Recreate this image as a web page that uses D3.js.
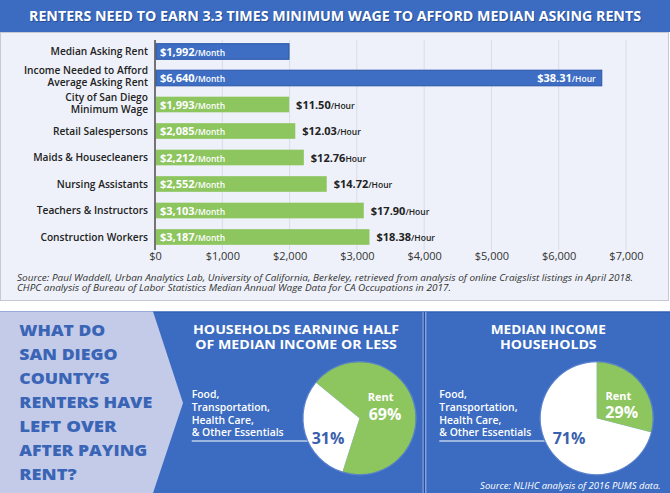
<!DOCTYPE html>
<html><head><meta charset="utf-8">
<script src="https://cdn.jsdelivr.net/npm/d3@7"></script>
<style>
html,body{margin:0;padding:0;background:#fff;}
svg{display:block;}
text{font-family:"Open Sans",sans-serif;}
</style></head>
<body>
<svg id="c" width="670" height="493"></svg>
<script>
// ---------- DATA ----------
const title = "RENTERS NEED TO EARN 3.3 TIMES MINIMUM WAGE TO AFFORD MEDIAN ASKING RENTS";
const categories = ["Median Asking Rent","Income Needed to Afford Average Asking Rent","City of San Diego Minimum Wage","Retail Salespersons","Maids & Housecleaners","Nursing Assistants","Teachers & Instructors","Construction Workers"];
const categoryLines = [["Median Asking Rent"],["Income Needed to Afford","Average Asking Rent"],["City of San Diego","Minimum Wage"],["Retail Salespersons"],["Maids & Housecleaners"],["Nursing Assistants"],["Teachers & Instructors"],["Construction Workers"]];
const monthly = [1992, 6640, 1993, 2085, 2212, 2552, 3103, 3187];
const hourly = [null, "$38.31", "$11.50", "$12.03", "$12.76", "$14.72", "$17.90", "$18.38"];
const hourSuffix = [null, "/Hour", "/Hour", "/Hour", "Hour", "/Hour", "/Hour", "/Hour"];
const barType = ["blue","blue","green","green","green","green","green","green"];
const xTicks = [0,1000,2000,3000,4000,5000,6000,7000];
const sourceTop = ["Source: Paul Waddell, Urban Analytics Lab, University of California, Berkeley, retrieved from analysis of online Craigslist listings in April 2018.",
                   "CHPC analysis of Bureau of Labor Statistics Median Annual Wage Data for CA Occupations in 2017."];
const question = ["WHAT DO","SAN DIEGO","COUNTY\u2019S","RENTERS HAVE","LEFT OVER","AFTER PAYING","RENT?"];
const essentials = ["Food,","Transportation,","Health Care,","& Other Essentials"];
const pieTitles = [["HOUSEHOLDS EARNING HALF","OF MEDIAN INCOME OR LESS"],["MEDIAN INCOME","HOUSEHOLDS"]];
const pieRent = [69, 29];
const pieOther = [31, 71];
const sourceBottom = "Source: NLIHC analysis of 2016 PUMS data.";

// ---------- STYLE ----------
const BLUE = "#3b6cc1", BAR_BLUE = "#3d6ec3", BAR_BLUE_EDGE = "#2a56a6", GREEN = "#8dc55f", LIGHT = "#c3cbe9";
const svg = d3.select("#c");

// banner
svg.append("rect").attr("x",0).attr("y",0).attr("width",670).attr("height",32).attr("fill",BLUE);
svg.append("text").attr("x",336).attr("y",22).attr("text-anchor","middle")
  .attr("font-size",13.5).attr("font-weight",700).attr("fill","#1e3f7e").attr("opacity",0.7)
  .attr("textLength",612).attr("lengthAdjust","spacingAndGlyphs").text(title);
svg.append("text").attr("x",335).attr("y",21).attr("text-anchor","middle")
  .attr("font-size",13.5).attr("font-weight",700).attr("fill","#fff")
  .attr("textLength",612).attr("lengthAdjust","spacingAndGlyphs").text(title);

// top panel
svg.append("rect").attr("x",0.5).attr("y",32.5).attr("width",668).attr("height",268)
  .attr("fill","#eef1f9").attr("stroke","#c6cad3");

const x = d3.scaleLinear().domain([0,7000]).range([155,626]);
const y = d3.scaleBand().domain(categories).range([38.25,250.25]).paddingInner(0.41).paddingOuter(0.205);

// grid
svg.append("g").selectAll("line").data(xTicks.slice(1)).join("line")
  .attr("x1",d=>x(d)).attr("x2",d=>x(d)).attr("y1",40).attr("y2",250)
  .attr("stroke","#d8dce6").attr("stroke-width",1);

// axis
const axis = d3.axisBottom(x).tickValues(xTicks).tickSize(0).tickPadding(0).tickFormat(d=>"$"+d3.format(",")(d));
const ag = svg.append("g").attr("transform","translate(0,250)").call(axis);
ag.select(".domain").remove();
ag.selectAll("text").attr("dy",null).attr("y",10).attr("font-size",11).attr("fill","#333")
  .attr("font-family","'Open Sans',sans-serif");

// bars
svg.append("g").selectAll("rect").data(categories).join("rect")
  .attr("x",x(0)+1).attr("y",(d)=>y(d))
  .attr("width",(d,i)=>x(monthly[i])-x(0)-1).attr("height",y.bandwidth())
  .attr("fill",(d,i)=>barType[i]==="blue"?BAR_BLUE:GREEN)
  .attr("stroke",(d,i)=>barType[i]==="blue"?BAR_BLUE_EDGE:"none").attr("stroke-width",1);

// axis line
svg.append("line").attr("x1",x(0)).attr("x2",x(0)).attr("y1",40).attr("y2",250)
  .attr("stroke","#555").attr("stroke-width",1.6);

// category labels
categories.forEach((c,i)=>{
  const lines = categoryLines[i];
  const cy = y(c)+y.bandwidth()/2;
  const lh = 12;
  const top = cy - (lines.length-1)*lh/2 - (lines.length>1?1.3:0);
  const t = svg.append("text").attr("text-anchor","end").attr("font-size",10.2).attr("font-weight",600).attr("fill","#222");
  lines.forEach((l,j)=>t.append("tspan").attr("x",148).attr("y",top+j*lh+3.7).text(l));
});

// month labels
categories.forEach((c,i)=>{
  const cy = y(c)+y.bandwidth()/2;
  const t = svg.append("text").attr("x",x(0)+5).attr("y",cy+4).attr("fill","#fff");
  t.append("tspan").attr("font-size",11).attr("font-weight",700).text("$"+d3.format(",")(monthly[i]));
  t.append("tspan").attr("font-size",8.5).attr("font-weight",600).text("/Month");
});

// hour labels
categories.forEach((c,i)=>{
  if(!hourly[i]) return;
  const cy = y(c)+y.bandwidth()/2;
  const inside = barType[i]==="blue";
  const t = svg.append("text").attr("y",cy+4)
    .attr("x", inside ? x(monthly[i])-6 : x(monthly[i])+7)
    .attr("text-anchor", inside ? "end" : "start")
    .attr("fill", inside ? "#fff" : "#222");
  t.append("tspan").attr("font-size",11).attr("font-weight",700).text(hourly[i]);
  t.append("tspan").attr("font-size",8.5).attr("font-weight",600).text(hourSuffix[i]);
});

// top source
const srcLen = [616, 434];
sourceTop.forEach((s,i)=>{
  svg.append("text").attr("x",17).attr("y",281+i*10.4).attr("font-size",9).attr("font-style","italic")
    .attr("fill","#333").attr("textLength",srcLen[i]).attr("lengthAdjust","spacingAndGlyphs").text(s);
});

// ---------- bottom section ----------
svg.append("rect").attr("x",0).attr("y",311.5).attr("width",670).attr("height",182).attr("fill",BLUE);
svg.append("line").attr("x1",0).attr("x2",670).attr("y1",312).attr("y2",312).attr("stroke","#2d5bb0").attr("stroke-width",1);
svg.append("polygon").attr("points","0,311.5 153,311.5 183,403 153,493 0,493").attr("fill",LIGHT);

// divider
svg.append("line").attr("x1",423.2).attr("x2",423.2).attr("y1",312).attr("y2",493).attr("stroke","#a9bde8").attr("stroke-width",1);
svg.append("line").attr("x1",424.5).attr("x2",424.5).attr("y1",312).attr("y2",493).attr("stroke","#234fa2").attr("stroke-width",1.5);
svg.append("line").attr("x1",425.8).attr("x2",425.8).attr("y1",312).attr("y2",493).attr("stroke","#a9bde8").attr("stroke-width",1);

// question
const qLen = [86, 98.3, 90, 133, 97.3, 128, 57.3];
question.forEach((q,i)=>{
  svg.append("text").attr("x",19.3).attr("y",335.6+i*24.1).attr("font-size",15.5).attr("font-weight",800)
    .attr("fill","#3a64b5").attr("textLength",qLen[i]).attr("lengthAdjust","spacingAndGlyphs").text(q);
});

// pies
const pies = [
  {cx:359.5, cy:418.2, r:56, start:-50.8*Math.PI/180, titleX:296, tLen:[206,201.7], textX:191.7,
   rentLbl:[21.2,-20.9], pctLbl:[25.5,-3.7], otherLbl:[-31.5,20.6]},
  {cx:596.7, cy:418.2, r:56, start:0, titleX:548.3, tLen:[115.3,96.7], textX:439.3,
   rentLbl:[21.6,-22.5], pctLbl:[25,-6], otherLbl:[-27.7,20.6]}
];
pies.forEach((p,k)=>{
  pieTitles[k].forEach((t,j)=>{
    svg.append("text").attr("x",p.titleX).attr("y",333.6+j*15.3).attr("text-anchor","middle")
      .attr("font-size",13).attr("font-weight",700).attr("fill","#fff")
      .attr("textLength",p.tLen[j]).attr("lengthAdjust","spacingAndGlyphs").text(t);
  });
  const et = svg.append("text").attr("font-size",10.4).attr("font-weight",600).attr("fill","#fff");
  essentials.forEach((e,j)=>et.append("tspan").attr("x",p.textX).attr("y",398+j*12.8).text(e));
  const uy = 441;
  const edge = p.cx - Math.sqrt(p.r*p.r - (uy-p.cy)*(uy-p.cy));
  svg.append("line").attr("x1",p.textX).attr("x2",edge).attr("y1",uy).attr("y2",uy).attr("stroke","#fff").attr("stroke-width",1.2);

  const data = [{key:"Rent", v:pieRent[k]},{key:"Other", v:pieOther[k]}];
  const pie = d3.pie().sort(null).value(d=>d.v).startAngle(p.start).endAngle(p.start+2*Math.PI);
  const arc = d3.arc().innerRadius(0).outerRadius(p.r);
  const g = svg.append("g").attr("transform",`translate(${p.cx},${p.cy})`);
  g.append("circle").attr("r",p.r+0.8).attr("fill","none").attr("stroke","#5f86d0").attr("stroke-width",1);
  g.selectAll("path").data(pie(data)).join("path").attr("d",arc)
    .attr("fill",d=>d.data.key==="Rent"?GREEN:"#fff");
  g.append("text").attr("x",p.rentLbl[0]).attr("y",p.rentLbl[1]+4).attr("text-anchor","middle")
    .attr("font-size",11).attr("font-weight",700).attr("fill","#fff").text("Rent");
  g.append("text").attr("x",p.pctLbl[0]).attr("y",p.pctLbl[1]+5.5).attr("text-anchor","middle")
    .attr("font-size",16).attr("font-weight",700).attr("fill","#fff").text(pieRent[k]+"%");
  g.append("text").attr("x",p.otherLbl[0]).attr("y",p.otherLbl[1]+5.5).attr("text-anchor","middle")
    .attr("font-size",16).attr("font-weight",700).attr("fill","#3a5fad").text(pieOther[k]+"%");
});

svg.append("text").attr("x",660.7).attr("y",489).attr("text-anchor","end").attr("font-size",9.5)
  .attr("font-style","italic").attr("fill","#fff").text(sourceBottom);
</script>
</body></html>
